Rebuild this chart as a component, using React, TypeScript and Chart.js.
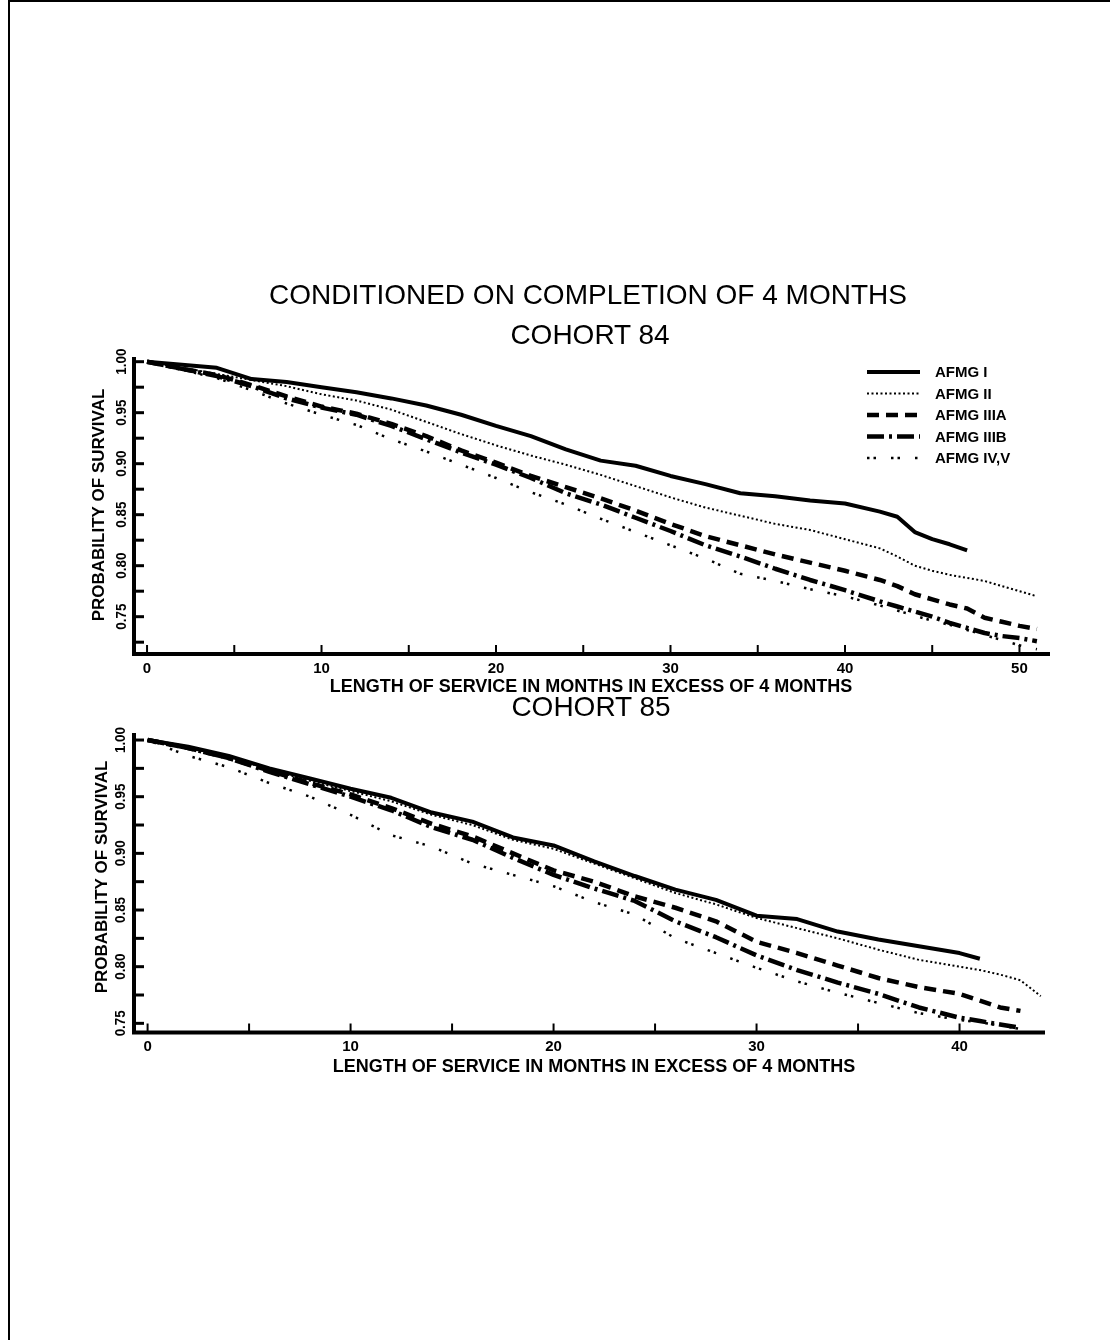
import React, { useEffect, useRef } from 'react';
import { Chart, registerables } from 'chart.js';

Chart.register(...registerables);

// ---------- data ----------
const SERIES_LABELS = ['AFMG I', 'AFMG II', 'AFMG IIIA', 'AFMG IIIB', 'AFMG IV,V'];

const MAIN_TITLE = 'CONDITIONED ON COMPLETION OF 4 MONTHS';
const COHORT_TITLES = ['COHORT 84', 'COHORT 85'];
const X_TITLE = 'LENGTH OF SERVICE IN MONTHS IN EXCESS OF 4 MONTHS';
const Y_TITLE = 'PROBABILITY OF SURVIVAL';

// Cohort 84
const MONTHS_84 = [0, 2, 4, 6, 8, 10, 12, 14, 16, 18, 20, 22, 24, 26, 28, 30, 32, 34, 36, 38, 40, 42, 43, 44, 45, 46, 47, 48, 49, 50, 51];
const C84_I = [1.0, 0.997, 0.994, 0.983, 0.98, 0.975, 0.97, 0.964, 0.957, 0.948, 0.937, 0.927, 0.914, 0.903, 0.898, 0.888, 0.88, 0.871, 0.868, 0.864, 0.861, 0.853, 0.848, 0.833, 0.826, 0.821, 0.815, null, null, null, null];
const C84_II = [1.0, 0.994, 0.988, 0.982, 0.976, 0.968, 0.962, 0.953, 0.941, 0.929, 0.918, 0.908, 0.899, 0.889, 0.878, 0.867, 0.857, 0.849, 0.841, 0.835, 0.826, 0.817, 0.809, 0.8, 0.795, 0.791, 0.788, 0.785, 0.78, 0.775, 0.77];
const C84_IIIA = [1.0, 0.993, 0.987, 0.977, 0.966, 0.956, 0.949, 0.939, 0.927, 0.913, 0.901, 0.888, 0.877, 0.866, 0.854, 0.841, 0.829, 0.82, 0.811, 0.803, 0.795, 0.786, 0.78, 0.772, 0.767, 0.762, 0.758, 0.749, 0.745, 0.741, 0.738];
const C84_IIIB = [1.0, 0.993, 0.986, 0.976, 0.964, 0.955, 0.948, 0.937, 0.924, 0.911, 0.899, 0.886, 0.871, 0.86, 0.847, 0.834, 0.82, 0.809, 0.797, 0.786, 0.776, 0.765, 0.76, 0.755, 0.75, 0.744, 0.739, 0.734, 0.731, 0.729, 0.726];
const C84_IVV = [1.0, 0.992, 0.984, 0.972, 0.959, 0.948, 0.938, 0.924, 0.912, 0.899, 0.886, 0.872, 0.86, 0.846, 0.833, 0.82, 0.807, 0.792, 0.785, 0.777, 0.77, 0.761, 0.756, 0.751, 0.746, 0.742, 0.737, 0.732, 0.727, 0.722, 0.718];

// Cohort 85
const MONTHS_85 = [0, 2, 4, 6, 8, 10, 12, 14, 16, 18, 20, 22, 24, 26, 28, 30, 32, 34, 36, 38, 40, 41, 42, 43, 44];
const C85_I = [1.0, 0.994, 0.986, 0.975, 0.966, 0.957, 0.949, 0.936, 0.928, 0.914, 0.907, 0.893, 0.88, 0.868, 0.859, 0.845, 0.842, 0.831, 0.824, 0.818, 0.812, 0.807, null, null, null];
const C85_II = [1.0, 0.993, 0.985, 0.974, 0.964, 0.955, 0.946, 0.934, 0.925, 0.912, 0.904, 0.891, 0.878, 0.865, 0.855, 0.843, 0.834, 0.825, 0.815, 0.806, 0.8, 0.797, 0.793, 0.788, 0.774];
const C85_IIIA = [1.0, 0.993, 0.984, 0.973, 0.962, 0.952, 0.94, 0.926, 0.915, 0.9, 0.885, 0.875, 0.862, 0.852, 0.84, 0.822, 0.812, 0.801, 0.79, 0.782, 0.776, 0.77, 0.764, 0.761, null];
const C85_IIIB = [1.0, 0.993, 0.984, 0.972, 0.961, 0.95, 0.938, 0.923, 0.912, 0.896, 0.881, 0.869, 0.858, 0.84, 0.826, 0.81, 0.797, 0.786, 0.776, 0.764, 0.755, 0.752, 0.749, 0.746, null];
const C85_IVV = [1.0, 0.986, 0.976, 0.962, 0.95, 0.934, 0.916, 0.906, 0.891, 0.881, 0.871, 0.857, 0.846, 0.825, 0.812, 0.799, 0.787, 0.777, 0.768, 0.759, 0.753, 0.751, 0.748, 0.745, null];

// ticks
const X_TICKS_84 = [0, 5, 10, 15, 20, 25, 30, 35, 40, 45, 50];
const X_LABELS_84 = [0, 10, 20, 30, 40, 50];
const X_TICKS_85 = [0, 5, 10, 15, 20, 25, 30, 35, 40];
const X_LABELS_85 = [0, 10, 20, 30, 40];
const Y_TICKS_84 = [0.725, 0.75, 0.775, 0.8, 0.825, 0.85, 0.875, 0.9, 0.925, 0.95, 0.975, 1.0];
const Y_TICKS_85 = [0.75, 0.775, 0.8, 0.825, 0.85, 0.875, 0.9, 0.925, 0.95, 0.975, 1.0];
const Y_LABELS = [0.75, 0.8, 0.85, 0.9, 0.95, 1.0];

// ---------- styles ----------
const FONT = '"Liberation Sans", Arial, Helvetica, sans-serif';
const LINE_STYLES = [
  { width: 4, dash: [] as number[] },
  { width: 2, dash: [2, 2.5] },
  { width: 4.5, dash: [12, 7] },
  { width: 4.5, dash: [17, 5, 3, 5] },
  { width: 2.5, dash: [2.5, 4, 2.5, 15] },
];

const decorPlugin = {
  id: 'decor',
  afterDatasetsDraw(chart: any, _args: any, o: any) {
    const { ctx, chartArea: a } = chart;
    const xs = chart.scales.x;
    const ys = chart.scales.y;
    ctx.save();
    ctx.strokeStyle = '#000';
    ctx.fillStyle = '#000';
    ctx.setLineDash([]);
    ctx.lineCap = 'butt';
    // axis lines
    ctx.lineWidth = 4;
    ctx.beginPath();
    ctx.moveTo(a.left - 1, a.top);
    ctx.lineTo(a.left - 1, a.bottom + 3);
    ctx.moveTo(a.left - 3, a.bottom + 1);
    ctx.lineTo(a.right, a.bottom + 1);
    ctx.stroke();
    // x tick marks (inward)
    ctx.lineWidth = 2;
    xs.ticks.forEach((t: any) => {
      const px = xs.getPixelForValue(t.value);
      ctx.beginPath();
      ctx.moveTo(px, a.bottom);
      ctx.lineTo(px, a.bottom - 8);
      ctx.stroke();
    });
    // y tick marks (inward)
    ctx.lineWidth = 3;
    ys.ticks.forEach((t: any) => {
      const py = ys.getPixelForValue(t.value);
      ctx.beginPath();
      ctx.moveTo(a.left, py);
      ctx.lineTo(a.left + 9, py);
      ctx.stroke();
    });
    // x labels
    ctx.textAlign = 'center';
    ctx.textBaseline = 'middle';
    ctx.font = `bold 15px ${FONT}`;
    o.xLabels.forEach((v: number) => {
      ctx.fillText(String(v), xs.getPixelForValue(v), a.bottom + o.xLabelGap);
    });
    // x title
    ctx.font = `bold 18px ${FONT}`;
    ctx.fillText(X_TITLE, o.xTitleX, a.bottom + o.xTitleGap, 535);
    // y labels (rotated)
    ctx.font = `bold 14px ${FONT}`;
    Y_LABELS.forEach((v) => {
      const py = ys.getPixelForValue(v);
      ctx.save();
      ctx.translate(o.yLabelX, py);
      ctx.rotate(-Math.PI / 2);
      ctx.fillText(v.toFixed(2), 0, 0, 26);
      ctx.restore();
    });
    // y title
    ctx.font = `bold 17px ${FONT}`;
    ctx.save();
    ctx.translate(o.yTitleX, o.yTitleY);
    ctx.rotate(-Math.PI / 2);
    ctx.fillText(Y_TITLE, 0, 0, 242);
    ctx.restore();
    // legend
    if (o.legend) {
      const { x1, x2, tx, y0, dy } = o.legend;
      chart.data.datasets.forEach((ds: any, i: number) => {
        const y = y0 + i * dy;
        ctx.lineWidth = ds.borderWidth;
        ctx.setLineDash(ds.borderDash || []);
        ctx.beginPath();
        ctx.moveTo(x1, y);
        ctx.lineTo(x2, y);
        ctx.stroke();
        ctx.setLineDash([]);
        ctx.textAlign = 'left';
        ctx.font = `bold 15px ${FONT}`;
        ctx.fillText(ds.label, tx, y + 1, 80);
      });
    }
    ctx.restore();
  },
};

function buildDatasets(months: number[], series: (number | null)[][]) {
  return series.map((vals, i) => ({
    label: SERIES_LABELS[i],
    data: months
      .map((m, j) => ({ x: m, y: vals[j] }))
      .filter((p) => p.y !== null),
    borderColor: '#000',
    backgroundColor: '#000',
    borderWidth: LINE_STYLES[i].width,
    borderDash: LINE_STYLES[i].dash,
    borderJoinStyle: 'round',
    pointRadius: 0,
    tension: 0,
    fill: false,
  }));
}

function SurvivalChart(props: {
  width: number;
  height: number;
  top: number;
  area: { left: number; top: number; right: number; bottom: number };
  xMin: number;
  xMax: number;
  yMin: number;
  yMax: number;
  xTicks: number[];
  yTicks: number[];
  months: number[];
  series: (number | null)[][];
  decor: any;
}) {
  const ref = useRef<HTMLCanvasElement>(null);
  useEffect(() => {
    const p = props;
    const chart = new Chart(ref.current as HTMLCanvasElement, {
      type: 'line',
      data: { datasets: buildDatasets(p.months, p.series) as any },
      plugins: [decorPlugin as any],
      options: {
        responsive: false,
        animation: false,
        events: [],
        layout: {
          padding: { left: 0, top: p.area.top, right: p.width - p.area.right, bottom: 0 },
        },
        plugins: {
          legend: { display: false },
          tooltip: { enabled: false },
          title: { display: false },
          decor: p.decor,
        } as any,
        scales: {
          x: {
            type: 'linear',
            min: p.xMin,
            max: p.xMax,
            grid: { display: false },
            border: { display: false },
            ticks: { display: false },
            afterBuildTicks: (s: any) => {
              s.ticks = p.xTicks.map((v) => ({ value: v }));
            },
            afterFit: (s: any) => {
              s.height = p.height - p.area.bottom;
            },
          },
          y: {
            type: 'linear',
            min: p.yMin,
            max: p.yMax,
            grid: { display: false },
            border: { display: false },
            ticks: { display: false },
            afterBuildTicks: (s: any) => {
              s.ticks = p.yTicks.map((v) => ({ value: v }));
            },
            afterFit: (s: any) => {
              s.width = p.area.left;
            },
          },
        },
      } as any,
    });
    return () => chart.destroy();
  }, []);
  return (
    <canvas
      ref={ref}
      width={props.width}
      height={props.height}
      style={{ position: 'absolute', left: 0, top: props.top, width: props.width, height: props.height }}
    />
  );
}

const titleStyle = (x: number, y: number): React.CSSProperties => ({
  position: 'absolute',
  left: x,
  top: y,
  transform: 'translate(-50%, -50%)',
  font: `28px ${FONT}`,
  color: '#000',
  whiteSpace: 'nowrap',
  lineHeight: 1,
  zIndex: 2,
});

export default function App() {
  return (
    <div
      style={{
        position: 'absolute',
        left: 0,
        top: 0,
        width: 1110,
        height: 1340,
        background: '#fff',
        overflow: 'hidden',
      }}
    >
      <div style={{ position: 'absolute', left: 8, top: 0, width: 2, height: 1340, background: '#000' }} />
      <div style={{ position: 'absolute', left: 8, top: 0, width: 1102, height: 2, background: '#000' }} />
      <SurvivalChart
        width={1110}
        height={720}
        top={0}
        area={{ left: 135, top: 357, right: 1050, bottom: 653 }}
        xMin={-0.69}
        xMax={51.75}
        yMin={0.7144}
        yMax={1.0046}
        xTicks={X_TICKS_84}
        yTicks={Y_TICKS_84}
        months={MONTHS_84}
        series={[C84_I, C84_II, C84_IIIA, C84_IIIB, C84_IVV]}
        decor={{
          xLabels: X_LABELS_84,
          xLabelGap: 16,
          xTitleGap: 34,
          xTitleX: 591,
          yLabelX: 122,
          yTitleX: 99,
          yTitleY: 505,
          legend: { x1: 867, x2: 920, tx: 935, y0: 372, dy: 21.5 },
        }}
      />
      <SurvivalChart
        width={1110}
        height={620}
        top={720}
        area={{ left: 135, top: 13, right: 1045, bottom: 311.5 }}
        xMin={-0.62}
        xMax={44.21}
        yMin={0.7428}
        yMax={1.0062}
        xTicks={X_TICKS_85}
        yTicks={Y_TICKS_85}
        months={MONTHS_85}
        series={[C85_I, C85_II, C85_IIIA, C85_IIIB, C85_IVV]}
        decor={{
          xLabels: X_LABELS_85,
          xLabelGap: 15.5,
          xTitleGap: 35.5,
          xTitleX: 594,
          yLabelX: 121,
          yTitleX: 102,
          yTitleY: 157,
          legend: null,
        }}
      />
      <div style={titleStyle(588, 295)}>{MAIN_TITLE}</div>
      <div style={titleStyle(590, 335)}>{COHORT_TITLES[0]}</div>
      <div style={titleStyle(591, 707)}>{COHORT_TITLES[1]}</div>
    </div>
  );
}
